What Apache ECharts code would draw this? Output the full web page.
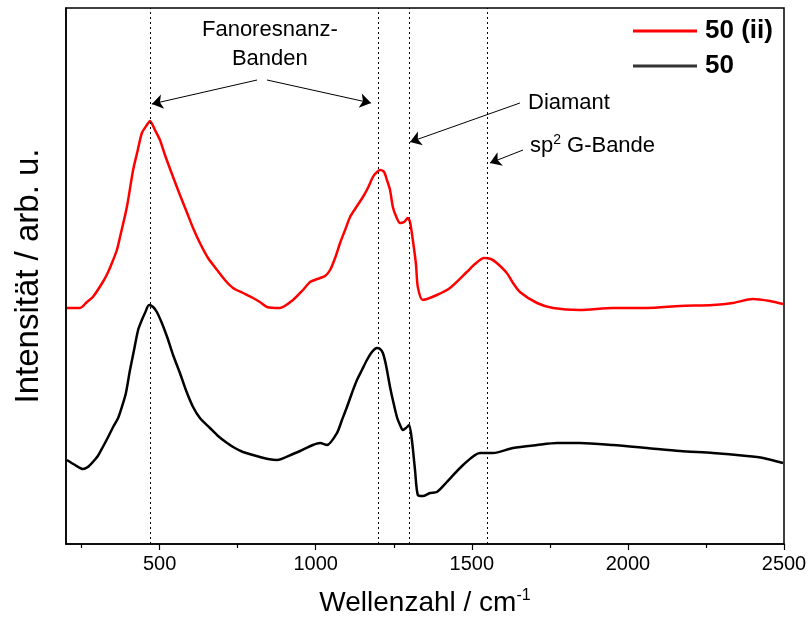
<!DOCTYPE html>
<html><head><meta charset="utf-8">
<script src="https://cdn.jsdelivr.net/npm/echarts@6/dist/echarts.min.js"></script>
<style>html,body{margin:0;padding:0;background:#fff}#c{width:810px;height:624px}</style>
</head><body><div id="c"></div>
<script>
// ---- data (arbitrary units) ----
const redX = [203,245,267,286,318,335,351,363,373,395,415,430,443,459,469,485,501,517,543,565,588,607,629,655,684,709,735,767,799,821,844,885,927,959,982,1014,1030,1046,1062,1078,1094,1110,1126,1151,1167,1183,1193,1206,1219,1228,1238,1247,1257,1270,1283,1295,1302,1311,1321,1327,1343,1388,1430,1484,1510,1539,1561,1580,1612,1632,1654,1709,1760,1846,1952,2061,2167,2272,2336,2400,2455,2497];
const redY = [236,236,242,247,262,272,284,294,307,337,374,394,411,419,423,414,404,389,367,349,331,316,301,286,274,264,256,251,246,242,237,236,244,254,262,266,268,274,286,301,314,327,335,347,356,367,371,374,372,364,354,337,328,321,322,326,322,304,280,257,244,249,256,272,280,286,285,281,271,261,252,241,236,234,236,236,238,239,241,245,243,240];
const blackX = [203,229,254,270,286,302,318,335,351,367,379,392,405,418,431,443,453,466,479,491,507,524,543,565,584,607,629,661,687,716,741,767,821,847,876,927,950,991,1014,1036,1068,1084,1100,1116,1132,1148,1164,1180,1196,1206,1215,1225,1238,1247,1260,1270,1279,1289,1299,1308,1318,1327,1343,1366,1388,1420,1472,1526,1568,1632,1709,1773,1846,1952,2061,2167,2272,2381,2433,2497];
const blackY = [84,79,75,77,82,88,97,107,117,126,137,151,174,194,214,224,231,239,237,232,221,207,189,171,154,137,126,116,108,101,96,92,87,85,84,90,93,99,101,99,111,124,137,151,164,174,184,192,196,195,191,179,157,144,127,119,114,116,119,104,74,49,48,51,52,62,79,91,91,96,99,101,101,99,96,93,91,88,86,81];
const seriesNames = ['50 (ii)', '50'];
const majorTicks = [500,1000,1500,2000,2500];
const minorTicks = [250,750,1250,1750,2250];
const bandLines = [470,1200,1300,1550];
// annotation arrows: [fromX, fromY, toX, toY] in data units
const arrows = [[812,464,475,440],[844,464,1177,441],[1654,441,1302,402],[1664,394,1558,381]];
// annotation labels: [x, y, text, align]
const notes = [[853,514,'Fanoresnanz-','center'],[853,485,'Banden','center'],[1680,441,'Diamant','left'],[1686,398,'sp{s|2} G-Bande','left']];

const FONT = "'Liberation Sans', Arial, sans-serif";
const toPairs = (xs, ys) => xs.map((x, i) => [x, ys[i]]);

const chart = echarts.init(document.getElementById('c'), null, {renderer: 'canvas'});
chart.setOption({
  animation: false,
  backgroundColor: '#fff',
  textStyle: {fontFamily: FONT},
  grid: {left: 66, right: 26, top: 8, bottom: 80, show: true, borderColor: '#000', borderWidth: 1.5, backgroundColor: 'transparent'},
  legend: {
    left: 628, top: 13, orient: 'vertical', itemWidth: 64, itemHeight: 3, itemGap: 9,
    icon: 'rect',
    textStyle: {fontFamily: FONT, fontSize: 26, fontWeight: 'bold', color: '#000', padding: [0,0,0,3]},
    data: [{name: seriesNames[0]}, {name: seriesNames[1], itemStyle: {color: '#333'}}]
  },
  xAxis: [{
    type: 'value', min: 200, max: 2500, position: 'bottom',
    axisLine: {show: true, onZero: false, lineStyle: {color: '#000', width: 1.5}},
    axisTick: {show: true, inside: false, length: 6, customValues: majorTicks, lineStyle: {color: '#000', width: 1.2}},
    axisLabel: {customValues: majorTicks, fontSize: 20, color: '#000', margin: 10, fontFamily: FONT, formatter: v => String(v)},
    splitLine: {show: false},
    name: 'Wellenzahl / cm{s|-1}', nameLocation: 'middle', nameGap: 44,
    nameTextStyle: {fontSize: 28, color: '#000', fontFamily: FONT, lineHeight: 30,
      rich: {s: {fontSize: 16, color: '#000', fontFamily: FONT, verticalAlign: 'top', lineHeight: 30}}}
  }, {
    type: 'value', min: 200, max: 2500, position: 'bottom',
    axisLine: {show: false, onZero: false},
    axisTick: {show: true, inside: false, length: 4, customValues: minorTicks, lineStyle: {color: '#000', width: 1.2}},
    axisLabel: {show: false}, splitLine: {show: false}
  }],
  yAxis: {
    type: 'value', min: 0, max: 536,
    axisLine: {show: true, onZero: false, lineStyle: {color: '#000', width: 1.5}},
    axisTick: {show: false}, axisLabel: {show: false}, splitLine: {show: false},
    name: 'Intensität / arb. u.', nameLocation: 'middle', nameGap: 21,
    nameTextStyle: {fontSize: 33, color: '#000', fontFamily: FONT}
  },
  series: [{
    name: seriesNames[0], type: 'line', xAxisIndex: 0, data: toPairs(redX, redY),
    showSymbol: false, smooth: 0.25, color: '#ff0000',
    lineStyle: {color: '#ff0000', width: 2.5},
    markLine: {
      silent: true, symbol: ['none', 'none'], label: {show: false},
      lineStyle: {color: '#000', type: [2, 3], width: 1},
      data: bandLines.map(v => ({xAxis: v}))
    }
  }, {
    name: seriesNames[1], type: 'line', xAxisIndex: 0, data: toPairs(blackX, blackY),
    showSymbol: false, smooth: 0.25, color: '#000',
    lineStyle: {color: '#000', width: 2.5},
    markLine: {
      silent: true, symbol: ['none', 'arrow'], symbolSize: 11, label: {show: false},
      lineStyle: {color: '#000', type: 'solid', width: 1},
      data: arrows.map(a => [{coord: [a[0], a[1]]}, {coord: [a[2], a[3]]}])
    },
    markPoint: {
      silent: true, symbol: 'circle', symbolSize: 0,
      data: notes.map(n => ({
        coord: [n[0], n[1]],
        label: {show: true, position: 'inside', formatter: n[2], align: n[3], verticalAlign: 'middle',
          fontSize: 22, color: '#000', fontFamily: FONT,
          rich: {s: {fontSize: 14, color: '#000', fontFamily: FONT, verticalAlign: 'top', lineHeight: 26}}}
      }))
    }
  }]
});
</script></body></html>
